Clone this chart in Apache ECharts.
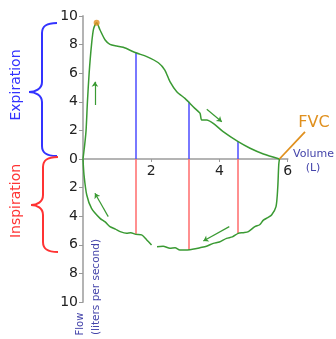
<!DOCTYPE html>
<html>
<head>
<meta charset="utf-8">
<script src="https://cdn.jsdelivr.net/npm/echarts@6/dist/echarts.min.js"></script>
<style>html,body{margin:0;padding:0;background:#fff;}#c{width:336px;height:339px;}</style>
</head>
<body>
<div id="c"></div>
<script>
// ---- data ----
var expVolume = [0, 0.05, 0.09, 0.13, 0.18, 0.25, 0.31, 0.40, 0.50, 0.65, 0.79, 0.99, 1.18, 1.55, 1.87, 2.21, 2.40, 2.55, 2.75, 2.99, 3.09, 3.28, 3.43, 3.48, 3.63, 3.82, 4.11, 4.55, 4.90, 5.29, 5.76];
var expFlow   = [0, 1.0, 2.0, 4.0, 6.0, 8.0, 9.1, 9.53, 9.02, 8.32, 8.02, 7.90, 7.81, 7.43, 7.16, 6.73, 6.22, 5.41, 4.71, 4.24, 4.00, 3.54, 3.20, 2.73, 2.73, 2.49, 1.91, 1.21, 0.75, 0.35, 0];
var inspVolume = [0, 0.03, 0.11, 0.25, 0.50, 0.65, 0.79, 0.95, 1.09, 1.28, 1.40, 1.55, 1.72, 1.87, 2.01, 2.06, 2.17, 2.35, 2.55, 2.70, 2.84, 3.06, 3.25, 3.43, 3.62, 3.82, 4.00, 4.21, 4.38, 4.55, 4.70, 4.85, 5.04, 5.18, 5.29, 5.42, 5.53, 5.66, 5.71, 5.74, 5.76];
var inspFlow   = [0, -1.12, -2.52, -3.45, -4.15, -4.40, -4.73, -4.90, -5.08, -5.20, -5.15, -5.27, -5.31, -5.66, -6.01, null, -6.13, -6.10, -6.24, -6.20, -6.36, -6.36, -6.30, -6.20, -6.10, -5.90, -5.80, -5.55, -5.45, -5.20, -5.15, -5.08, -4.73, -4.60, -4.27, -4.10, -3.92, -3.33, -2.05, -0.42, 0];
var peakPoint = [0.40, 9.53];
var markVolumes = [1.55, 3.09, 4.55];
var markExpFlow = [7.43, 4.00, 1.21];
var markInspFlow = [-5.27, -6.36, -5.20];
var arrowFrom = [[0.35, 3.78], [0.74, -4.03], [3.63, 3.48], [4.29, -4.73]];
var arrowTo   = [[0.35, 5.40], [0.35, -2.40], [4.07, 2.61], [3.53, -5.73]];
var fvcPointer = [[5.76, 0], [6.51, 1.89]];
var xTicks = [0, 2, 4, 6];
var yTicks = [-10, -8, -6, -4, -2, 0, 2, 4, 6, 8, 10];

// ---- build ----
function pairs(xs, ys) {
  return xs.map(function (x, i) { return ys[i] === null ? [x, '-'] : [x, ys[i]]; });
}
// curly brace made of bezier curves and lines
function brace(top, bottom, xEnd, xBar, xTip, yTip, color) {
  var st = {stroke: color, lineWidth: 2, fill: null};
  var r = 10;
  return [
    {type: 'bezierCurve', shape: {x1: xEnd, y1: top, cpx1: xBar + 3, cpy1: top, cpx2: xBar, cpy2: top + 4, x2: xBar, y2: top + r}, style: st},
    {type: 'line', shape: {x1: xBar, y1: top + r, x2: xBar, y2: yTip - r}, style: st},
    {type: 'bezierCurve', shape: {x1: xBar, y1: yTip - r, cpx1: xBar, cpy1: yTip - 3, cpx2: xTip + 6, cpy2: yTip, x2: xTip, y2: yTip}, style: st},
    {type: 'bezierCurve', shape: {x1: xTip, y1: yTip, cpx1: xTip + 6, cpy1: yTip, cpx2: xBar, cpy2: yTip + 3, x2: xBar, y2: yTip + r}, style: st},
    {type: 'line', shape: {x1: xBar, y1: yTip + r, x2: xBar, y2: bottom - r}, style: st},
    {type: 'bezierCurve', shape: {x1: xBar, y1: bottom - r, cpx1: xBar, cpy1: bottom - 4, cpx2: xBar + 3, cpy2: bottom, x2: xEnd, y2: bottom}, style: st}
  ];
}
var FONT = 'DejaVu Sans';
var green = '#3a9a33';
var chart = echarts.init(document.getElementById('c'), null, {renderer: 'canvas'});
var graphics = [].concat(
  brace(23, 156, 57, 42, 29, 92, '#3333ff'),
  brace(157, 252, 58, 43, 31, 205, '#ff3333'),
  [
    {type: 'text', x: 16, y: 85, rotation: Math.PI / 2,
      style: {text: 'Expiration', fill: '#3333ff', font: '14px "DejaVu Sans"', textAlign: 'center', textVerticalAlign: 'middle'}},
    {type: 'text', x: 16, y: 201, rotation: Math.PI / 2,
      style: {text: 'Inspiration', fill: '#ff3333', font: '14px "DejaVu Sans"', textAlign: 'center', textVerticalAlign: 'middle'}},
    {type: 'text', x: 314, y: 123,
      style: {text: 'FVC', fill: '#e0901e', font: '16px "DejaVu Sans"', textAlign: 'center', textVerticalAlign: 'middle'}},
    {type: 'text', x: 293, y: 154,
      style: {text: 'Volume', fill: '#4444aa', font: '11px "DejaVu Sans"', textAlign: 'left', textVerticalAlign: 'middle'}},
    {type: 'text', x: 313, y: 168,
      style: {text: '(L)', fill: '#4444aa', font: '11px "DejaVu Sans"', textAlign: 'center', textVerticalAlign: 'middle'}},
    {type: 'text', x: 80, y: 324, rotation: Math.PI / 2,
      style: {text: 'Flow', fill: '#4444aa', font: '10px "DejaVu Sans"', textAlign: 'center', textVerticalAlign: 'middle'}},
    {type: 'text', x: 96, y: 287, rotation: Math.PI / 2,
      style: {text: '(liters per second)', fill: '#4444aa', font: '10.5px "DejaVu Sans"', textAlign: 'center', textVerticalAlign: 'middle'}}
  ]
);
chart.setOption({
  animation: false,
  grid: {left: 83, right: 48.4, top: 16, bottom: 37},
  xAxis: {
    type: 'value', min: xTicks[0], max: xTicks[xTicks.length - 1], interval: 2,
    offset: -143,
    axisLine: {onZero: false, lineStyle: {color: '#b4b4b4', width: 2}},
    axisTick: {show: true, length: 3, lineStyle: {color: '#999'}},
    axisLabel: {margin: 5, color: '#222', fontSize: 14, fontFamily: FONT,
      formatter: function (v) { return v === 0 ? '' : String(v); }},
    splitLine: {show: false}
  },
  yAxis: {
    type: 'value', min: yTicks[0], max: yTicks[yTicks.length - 1], interval: 2,
    axisLine: {show: true, onZero: false, lineStyle: {color: '#b4b4b4', width: 2}},
    axisTick: {show: true, length: 4, lineStyle: {color: '#999'}},
    axisLabel: {margin: 5, color: '#222', fontSize: 14, fontFamily: FONT,
      formatter: function (v) { return String(Math.abs(v)); }},
    splitLine: {show: false}
  },
  series: [
    {
      type: 'lines', coordinateSystem: 'cartesian2d', z: 2,
      lineStyle: {color: '#4d4dff', width: 1.5, opacity: 1},
      data: markVolumes.map(function (v, i) { return {coords: [[v, 0], [v, markExpFlow[i]]]}; })
    },
    {
      type: 'lines', coordinateSystem: 'cartesian2d', z: 2,
      lineStyle: {color: '#ff6b6b', width: 1.5, opacity: 1},
      data: markVolumes.map(function (v, i) { return {coords: [[v, 0], [v, markInspFlow[i]]]}; })
    },
    {
      type: 'line', z: 3, showSymbol: false, smooth: 0.25,
      lineStyle: {color: green, width: 1.5},
      data: pairs(expVolume, expFlow)
    },
    {
      type: 'line', z: 3, showSymbol: false, smooth: 0.25, connectNulls: false,
      lineStyle: {color: green, width: 1.5},
      data: pairs(inspVolume, inspFlow)
    },
    {
      type: 'lines', coordinateSystem: 'cartesian2d', z: 4,
      symbol: ['none', 'arrow'], symbolSize: 5,
      lineStyle: {color: green, width: 1.2, opacity: 1},
      data: arrowFrom.map(function (p, i) { return {coords: [p, arrowTo[i]]}; })
    },
    {
      type: 'custom', z: 5, clip: false,
      data: [fvcPointer[0].concat(fvcPointer[1])],
      renderItem: function (params, api) {
        var a = api.coord([api.value(0), api.value(1)]);
        var b = api.coord([api.value(2), api.value(3)]);
        return {type: 'line', shape: {x1: a[0], y1: a[1], x2: b[0], y2: b[1]},
          style: {stroke: '#e0901e', lineWidth: 1.8}};
      }
    },
    {
      type: 'scatter', z: 6, symbolSize: 6,
      itemStyle: {color: '#e0901e'},
      data: [peakPoint]
    }
  ],
  graphic: graphics
});
</script>
</body>
</html>
